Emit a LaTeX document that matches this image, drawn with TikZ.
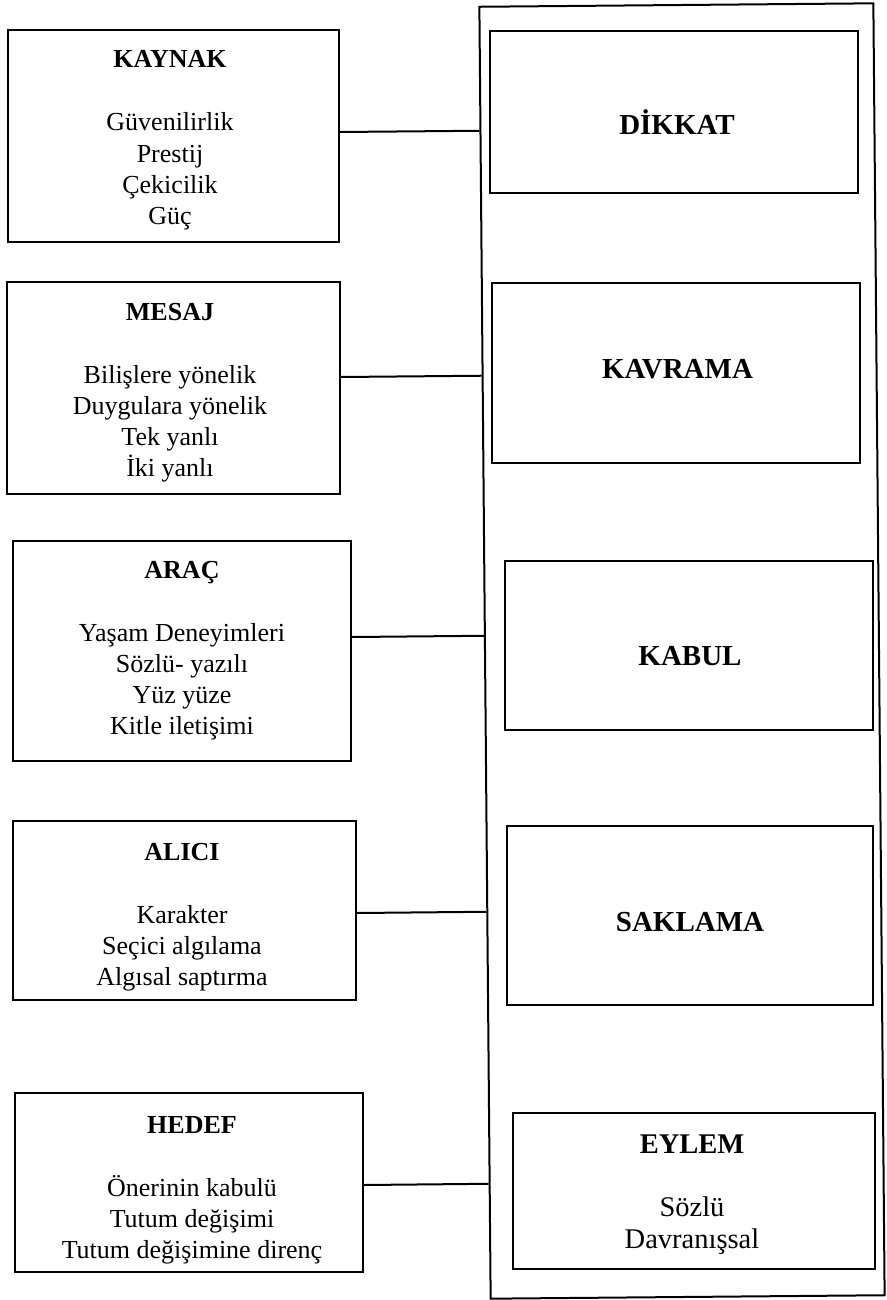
\documentclass[tikz,border=0pt]{standalone}
\usepackage{fontspec}
\setmainfont{Liberation Serif}
\usetikzlibrary{calc}

% centred stack of lines whose baseline is the first line's baseline
\newcommand{\boxlines}[1]{\begin{tabular}[t]{@{}c@{}}#1\end{tabular}}

\tikzset{
  lbox/.style={draw, line width=2pt, inner sep=0pt},
  outerbox/.style={draw, line width=2pt, inner sep=0pt},
  ltext/.style={anchor=base, inner sep=0pt, font=\fontsize{26}{31.2}\selectfont},
  rtitle/.style={anchor=base, inner sep=0pt, font=\fontsize{29}{32}\selectfont\bfseries},
  rtext/.style={anchor=base, inner sep=0pt, font=\fontsize{28.5}{32}\selectfont},
  conn/.style={line width=2pt}
}

\begin{document}
\begin{tikzpicture}[x=1pt, y=-1pt]
\useasboundingbox (0,0) rectangle (886,1300);

% outer frame holding the stages (slightly tilted, as hand drawn)
\node[outerbox, rotate=0.5, minimum width=394pt, minimum height=1292pt] (outer) at (682,651) {};

% left column: communication components
\node[lbox, minimum width=331pt, minimum height=212pt] (kaynak) at (173.5,136) {};
\node[lbox, minimum width=333pt, minimum height=212pt] (mesaj) at (173.5,388) {};
\node[lbox, minimum width=338pt, minimum height=220pt] (arac) at (182,651) {};
\node[lbox, minimum width=343pt, minimum height=179pt] (alici) at (184.5,910.5) {};
\node[lbox, minimum width=348pt, minimum height=179pt] (hedef) at (189,1182.5) {};

\node[ltext] (kaynak-t) at (170,68)
  {\boxlines{\textbf{KAYNAK}\\[31.8pt]Güvenilirlik\\Prestij\\Çekicilik\\Güç}};
\node[ltext] (mesaj-t) at (170,320)
  {\boxlines{\textbf{MESAJ}\\[31.8pt]Bilişlere yönelik\\Duygulara yönelik\\Tek yanlı\\İki yanlı}};
\node[ltext] (arac-t) at (182,578)
  {\boxlines{\textbf{ARAÇ}\\[31.8pt]Yaşam Deneyimleri\\Sözlü- yazılı\\Yüz yüze\\Kitle iletişimi}};
\node[ltext] (alici-t) at (182,860)
  {\boxlines{\textbf{ALICI}\\[31.8pt]Karakter\\Seçici algılama\\Algısal saptırma}};
\node[ltext] (hedef-t) at (192,1133)
  {\boxlines{\textbf{HEDEF}\\[31.8pt]Önerinin kabulü\\Tutum değişimi\\Tutum değişimine direnç}};

% right column: persuasion stages
\node[lbox, minimum width=368pt, minimum height=162pt] (dikkat) at (674,112) {};
\node[lbox, minimum width=368pt, minimum height=180pt] (kavrama) at (676,373) {};
\node[lbox, minimum width=368pt, minimum height=169pt] (kabul) at (689,645.5) {};
\node[lbox, minimum width=366pt, minimum height=179pt] (saklama) at (690,915.5) {};
\node[lbox, minimum width=362pt, minimum height=156pt] (eylem) at (694,1191) {};

\node[rtitle] (dikkat-t) at (677,135) {DİKKAT};
\node[rtitle] (kavrama-t) at (677.5,378) {KAVRAMA};
\node[rtitle] (kabul-t) at (690,665) {KABUL};
\node[rtitle] (saklama-t) at (690,931) {SAKLAMA};
\node[rtext] (eylem-t) at (692,1153)
  {\boxlines{\textbf{EYLEM}\\[31pt]Sözlü\\Davranışsal}};

% connectors from each component to the left side of the frame
\draw[conn] ([yshift=4pt]kaynak.east) coordinate (c1)
  -- ($(outer.north west)!(c1)!(outer.south west)$);
\draw[conn] ([yshift=11pt]mesaj.east) coordinate (c2)
  -- ($(outer.north west)!(c2)!(outer.south west)$);
\draw[conn] ([yshift=14pt]arac.east) coordinate (c3)
  -- ($(outer.north west)!(c3)!(outer.south west)$);
\draw[conn] ([yshift=-2.5pt]alici.east) coordinate (c4)
  -- ($(outer.north west)!(c4)!(outer.south west)$);
\draw[conn] ([yshift=-2.5pt]hedef.east) coordinate (c5)
  -- ($(outer.north west)!(c5)!(outer.south west)$);
\end{tikzpicture}
\end{document}
